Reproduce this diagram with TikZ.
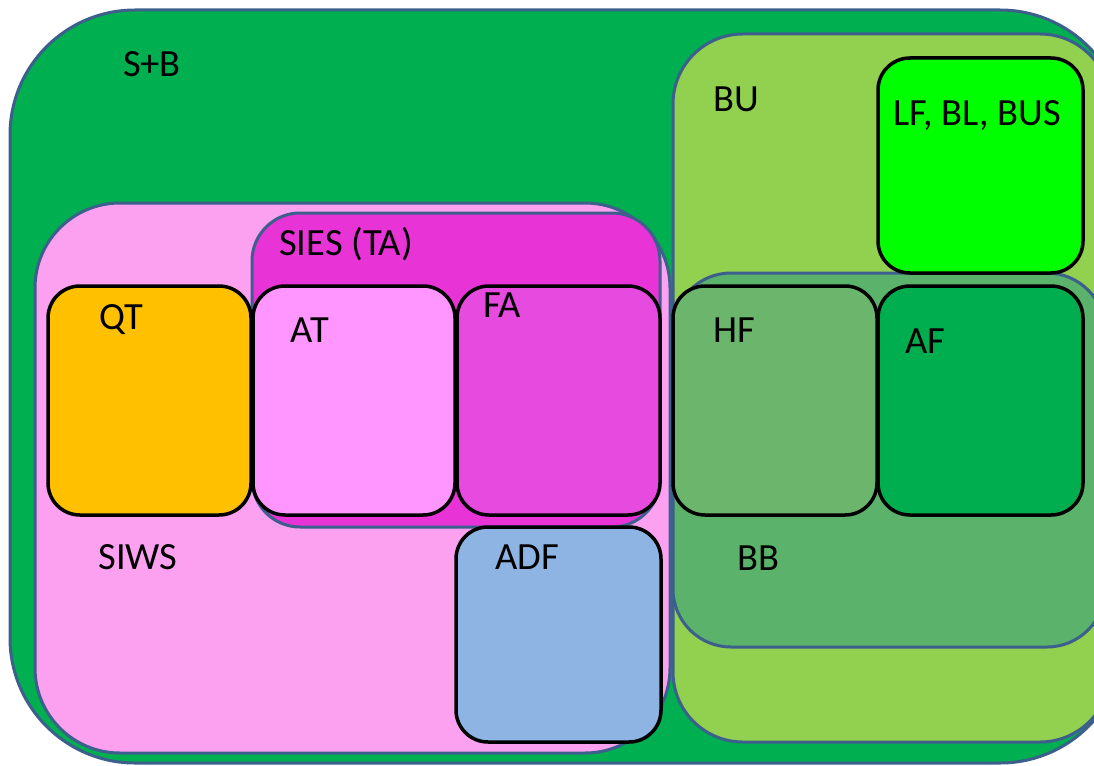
\documentclass[tikz,border=0pt]{standalone}
\usepackage{fontspec}
\setmainfont{Carlito}
\definecolor{sbgreen}{HTML}{00AF50}
\definecolor{bugreen}{HTML}{92D050}
\definecolor{bbgreen}{HTML}{5BB36B}
\definecolor{hfgreen}{HTML}{6CB56C}
\definecolor{afgreen}{HTML}{00AE50}
\definecolor{lfgreen}{HTML}{00FF00}
\definecolor{qtorange}{HTML}{FFC000}
\definecolor{atpink}{HTML}{FF95FF}
\definecolor{famag}{HTML}{E64ADE}
\definecolor{siesmag}{HTML}{E833D6}
\definecolor{siwspink}{HTML}{FCA0F0}
\definecolor{adfblue}{HTML}{8EB4E3}
\definecolor{outline}{HTML}{3C5F8C}
\begin{document}
\begin{tikzpicture}[x=1pt,y=-1pt,
  setbox/.style={draw=outline,line width=3pt},
  elembox/.style={draw=black,line width=3.5pt,rounded corners=32pt},
  lbl/.style={anchor=base,inner sep=0pt,font=\fontsize{38.5}{46}\selectfont}]
\useasboundingbox (0,0) rectangle (1094,765);
\clip (0,0) rectangle (1094,765);
% sets
\path[setbox,fill=sbgreen,rounded corners=125pt] (10,10) rectangle (1125,763);
\path[setbox,fill=bugreen,rounded corners=70pt] (673,34) rectangle (1110,742);
\path[setbox,fill=bbgreen,rounded corners=58pt] (673,273) rectangle (1105,647);
\path[setbox,fill=siwspink,rounded corners=85pt] (35,203) rectangle (670,753);
\path[setbox,fill=siesmag,rounded corners=48pt] (252,213) rectangle (660,527);
% elements
\path[elembox,fill=lfgreen] (878,58) rectangle (1083,273);
\path[elembox,fill=hfgreen] (673,286) rectangle (877,515);
\path[elembox,fill=afgreen] (878,286) rectangle (1083,515);
\path[elembox,fill=qtorange] (48,286) rectangle (251,515);
\path[elembox,fill=atpink] (253,286) rectangle (455,515);
\path[elembox,fill=famag] (457,286) rectangle (660,515);
\path[elembox,fill=adfblue] (456,527) rectangle (661,742);
% labels
\node[lbl] (lsb) at (152,77) {S+B};
\node[lbl] (lbu) at (736,112) {BU};
\node[lbl] (llf) at (977,125) {LF, BL, BUS};
\node[lbl] (lsies) at (346,255) {SIES (TA)};
\node[lbl] (lqt) at (121,329) {QT};
\node[lbl] (lat) at (310,342) {AT};
\node[lbl] (lfa) at (502,317) {FA};
\node[lbl] (lhf) at (734,342) {HF};
\node[lbl] (laf) at (925,353) {AF};
\node[lbl] (lsiws) at (138,569) {SIWS};
\node[lbl] (ladf) at (527,569) {ADF};
\node[lbl] (lbb) at (758,570) {BB};
\end{tikzpicture}
\end{document}
